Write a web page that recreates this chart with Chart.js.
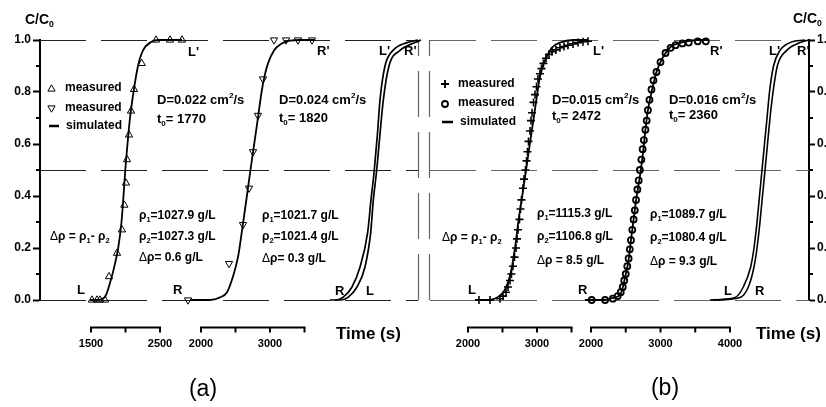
<!DOCTYPE html>
<html><head><meta charset="utf-8">
<script src="https://cdn.jsdelivr.net/npm/chart.js@4.4.1/dist/chart.umd.min.js"></script>
<style>html,body{margin:0;padding:0;background:#fff}#wrap{width:826px;height:407px;position:relative}</style>
</head><body><div id="wrap"><canvas id="c" width="826" height="407"></canvas></div>
<script>
// ---------------- data ----------------
// y axis
const yTicks = [0, 0.2, 0.4, 0.6, 0.8, 1.0];
const yMinorTicks = [0.1, 0.3, 0.5, 0.7, 0.9];
const guideLevels = [0, 0.5, 1.0];

// panel (a), left curve: triangles up, D=0.022
const a1MeasT = [1514, 1587, 1630, 1703, 1761, 1877, 1949, 1983, 2007, 2022, 2051, 2080, 2123, 2235, 2442, 2645, 2819];
const a1MeasC = [0, 0, 0, 0, 0.09, 0.18, 0.27, 0.365, 0.45, 0.54, 0.635, 0.727, 0.81, 0.91, 1.0, 1.0, 1.0];
const a1SimT = [1486, 1587, 1703, 1775, 1848, 1894, 1942, 1971, 1997, 2029, 2065, 2116, 2181, 2254, 2384, 2471, 2819];
const a1SimC = [0, 0, 0.012, 0.065, 0.14, 0.2, 0.3, 0.4, 0.5, 0.6, 0.7, 0.8, 0.9, 0.96, 0.994, 1.0, 1.0];
const a1AxisTicks = [1500, 2000, 2500];
const a1AxisLabels = [1500, 2500];

// panel (a), right curve: triangles down, D=0.024
const a2MeasT = [1812, 2406, 2609, 2696, 2754, 2826, 2899, 3058, 3232, 3406, 3609];
const a2MeasC = [0, 0.14, 0.29, 0.43, 0.57, 0.71, 0.85, 1.0, 1.0, 1.0, 1.0];
const a2SimT = [1841, 2130, 2275, 2377, 2464, 2536, 2558, 2612, 2665, 2717, 2771, 2825, 2878, 2920, 2971, 3058, 3159, 3290, 3435, 3652];
const a2SimC = [0, 0, 0.01, 0.03, 0.09, 0.165, 0.2, 0.3, 0.4, 0.5, 0.6, 0.7, 0.8, 0.86, 0.91, 0.96, 0.985, 0.998, 1.0, 1.0];
const a2AxisTicks = [2000, 2500, 3000, 3500];
const a2AxisLabels = [2000, 3000];

// panel (a), overlaid simulated L / R curves
const a3LeftT = [1913, 2000, 2101, 2232, 2348, 2459, 2507, 2555, 2601, 2638, 2710, 2826, 3029, 3188];
const a3LeftC = [0, 0, 0.01, 0.05, 0.127, 0.26, 0.385, 0.5, 0.64, 0.77, 0.9, 0.96, 0.99, 1.0];
const a3RightT = [1986, 2072, 2174, 2304, 2420, 2503, 2541, 2590, 2638, 2686, 2768, 2928, 3145, 3232];
const a3RightC = [0, 0, 0.01, 0.05, 0.127, 0.26, 0.385, 0.5, 0.64, 0.77, 0.9, 0.96, 0.99, 1.0];

// panel (b), left curve: crosses, D=0.015
const b1MeasT = [2159, 2319, 2464, 2507, 2551, 2580, 2609, 2630, 2652, 2674, 2696, 2710, 2725, 2746, 2761, 2775, 2797, 2812, 2833, 2848, 2862, 2877, 2899, 2913, 2928, 2949, 2971, 2993, 3014, 3043, 3065, 3094, 3130, 3174, 3217, 3275, 3333, 3391, 3449, 3522, 3594, 3667, 3739];
const b1MeasC = [0, 0, 0.005, 0.015, 0.03, 0.05, 0.075, 0.1, 0.13, 0.165, 0.2, 0.235, 0.27, 0.31, 0.35, 0.385, 0.43, 0.465, 0.5, 0.535, 0.57, 0.61, 0.65, 0.69, 0.72, 0.76, 0.79, 0.82, 0.85, 0.87, 0.89, 0.91, 0.93, 0.945, 0.955, 0.962, 0.97, 0.975, 0.98, 0.985, 0.99, 0.993, 0.995];
const b1SimT = [2101, 2319, 2435, 2536, 2616, 2681, 2729, 2786, 2841, 2896, 2952, 3007, 3036, 3083, 3141, 3213, 3333, 3522, 3739];
const b1SimC = [0, 0, 0.012, 0.04, 0.1, 0.2, 0.3, 0.4, 0.5, 0.6, 0.7, 0.8, 0.85, 0.9, 0.935, 0.97, 0.99, 1.0, 1.0];
const b1AxisTicks = [2000, 2500, 3000, 3500];
const b1AxisLabels = [2000, 3000];

// panel (b), right curve: circles, D=0.016
const b2MeasT = [2010, 2203, 2314, 2384, 2428, 2457, 2478, 2500, 2522, 2541, 2558, 2575, 2594, 2613, 2630, 2648, 2667, 2686, 2703, 2725, 2743, 2761, 2783, 2801, 2819, 2841, 2870, 2899, 2942, 3000, 3072, 3145, 3217, 3314, 3406, 3536, 3652];
const b2MeasC = [0, 0, 0.005, 0.015, 0.03, 0.05, 0.075, 0.1, 0.13, 0.16, 0.195, 0.23, 0.27, 0.31, 0.345, 0.385, 0.425, 0.46, 0.5, 0.54, 0.58, 0.615, 0.655, 0.69, 0.73, 0.77, 0.81, 0.845, 0.877, 0.915, 0.95, 0.97, 0.98, 0.987, 0.99, 0.995, 0.995];
const b2SimT = [1913, 2203, 2314, 2420, 2449, 2493, 2541, 2575, 2613, 2652, 2717, 2754, 2783, 2819, 2880, 2942, 3000, 3072, 3145, 3290, 3536, 3700];
const b2SimC = [0, 0, 0.008, 0.02, 0.04, 0.09, 0.154, 0.23, 0.31, 0.39, 0.5, 0.58, 0.654, 0.73, 0.81, 0.877, 0.915, 0.95, 0.973, 0.99, 1.0, 1.0];
const b2AxisTicks = [2000, 2500, 3000, 3500, 4000];
const b2AxisLabels = [2000, 3000, 4000];

// panel (b), overlaid simulated L / R curves
const b3LeftT = [2072, 2435, 2555, 2662, 2710, 2754, 2790, 2826, 2862, 2899, 2935, 2993, 3087, 3232, 3449];
const b3LeftC = [0, 0.01, 0.05, 0.127, 0.2, 0.3, 0.4, 0.5, 0.6, 0.7, 0.8, 0.9, 0.96, 0.99, 1.0];
const b3RightT = [2116, 2507, 2628, 2710, 2754, 2797, 2833, 2870, 2906, 2942, 2986, 3048, 3184, 3377, 3507];
const b3RightC = [0, 0.01, 0.05, 0.127, 0.2, 0.3, 0.4, 0.5, 0.6, 0.7, 0.8, 0.9, 0.96, 0.99, 1.0];

// ---------------- layout ----------------
const FONT = '"Liberation Sans", Arial, Helvetica, sans-serif';
const AREA = {left: 40, right: 809, top: 40, bottom: 300};
const PANEL_A_END = 418;
const PANEL_B_START = 430;
// value -> pixel anchors for each sub-plot time axis
const anchors = {
  xa1: [1500, 91, 2500, 160],
  xa2: [2000, 201, 3000, 270],
  xa3: [2000, 336, 3000, 405],
  xb1: [2000, 468, 3000, 537],
  xb2: [2000, 591, 4000, 730],
  xb3: [2000, 705, 3000, 774]
};
function fitRange(v0, p0, v1, p1) {
  const k = (p1 - p0) / (v1 - v0);
  const min = v0 - (p0 - AREA.left) / k;
  return {min: min, max: min + (AREA.right - AREA.left) / k};
}
const scales = {};
for (const id in anchors) {
  const r = fitRange.apply(null, anchors[id]);
  scales[id] = {type: 'linear', axis: 'x', position: 'bottom', display: false, min: r.min, max: r.max};
}
const yCommon = {
  type: 'linear', min: 0, max: 1,
  ticks: {stepSize: 0.2, color: '#000', font: {family: FONT, size: 12, weight: 'bold'}, padding: 2,
          callback: v => Number(v).toFixed(1)},
  grid: {drawOnChartArea: false, drawTicks: true, tickLength: 7, tickWidth: 2, tickColor: '#000'},
  border: {display: true, width: 2, color: '#000'}
};
scales.y = Object.assign({}, yCommon, {position: 'left', afterFit: s => { s.width = AREA.left; }});
scales.yR = Object.assign({}, yCommon, {position: 'right', grid: Object.assign({}, yCommon.grid, {tickLength: 6}),
  afterFit: s => { s.width = 826 - AREA.right; }});

function pts(T, C) { return T.map((t, i) => ({x: t, y: C[i]})); }
function sim(T, C, axis, w) {
  return {data: pts(T, C), xAxisID: axis, yAxisID: 'y', showLine: true, pointRadius: 0, borderColor: '#000',
          borderWidth: w || 1.8, cubicInterpolationMode: 'monotone', clip: false, order: 2};
}
function meas(T, C, axis, style, r, bw, rot) {
  return {data: pts(T, C), xAxisID: axis, yAxisID: 'y', showLine: false, pointStyle: style, pointRadius: r,
          pointBorderWidth: bw, pointRotation: rot || 0, borderColor: '#000', pointBorderColor: '#000',
          backgroundColor: 'rgba(0,0,0,0)', pointBackgroundColor: 'rgba(0,0,0,0)', clip: false, order: 1};
}
const datasets = [
  sim(a1SimT, a1SimC, 'xa1'), meas(a1MeasT, a1MeasC, 'xa1', 'triangle', 4.2, 1),
  sim(a2SimT, a2SimC, 'xa2'), meas(a2MeasT, a2MeasC, 'xa2', 'triangle', 4.2, 1, 180),
  sim(a3LeftT, a3LeftC, 'xa3', 1.7), sim(a3RightT, a3RightC, 'xa3', 1.7),
  sim(b1SimT, b1SimC, 'xb1'), meas(b1MeasT, b1MeasC, 'xb1', 'cross', 4, 1.6),
  sim(b2SimT, b2SimC, 'xb2'), meas(b2MeasT, b2MeasC, 'xb2', 'circle', 3, 1.8),
  sim(b3LeftT, b3LeftC, 'xb3', 1.6), sim(b3RightT, b3RightC, 'xb3', 1.6)
];

// ---------------- texts ----------------
const miniAxes = [
  {scale: 'xa1', ticks: a1AxisTicks, labels: a1AxisLabels},
  {scale: 'xa2', ticks: a2AxisTicks, labels: a2AxisLabels},
  {scale: 'xb1', ticks: b1AxisTicks, labels: b1AxisLabels},
  {scale: 'xb2', ticks: b2AxisTicks, labels: b2AxisLabels}
];
const notes = [
  {x: 25, y: 20, s: 14, t: [['C/C'], ['0', 'sub']]},
  {x: 793, y: 19, s: 14, t: [['C/C'], ['0', 'sub']]},
  {x: 157, y: 100, s: 13, t: [['D=0.022 cm'], ['2', 'sup'], ['/s']]},
  {x: 157, y: 119, s: 13, t: [['t'], ['0', 'sub'], ['= 1770']]},
  {x: 279, y: 100, s: 13, t: [['D=0.024 cm'], ['2', 'sup'], ['/s']]},
  {x: 279, y: 118, s: 13, t: [['t'], ['0', 'sub'], ['= 1820']]},
  {x: 139, y: 216, s: 12, t: [['ρ'], ['1', 'sub'], ['=1027.9 g/L']]},
  {x: 139, y: 237, s: 12, t: [['ρ'], ['2', 'sub'], ['=1027.3 g/L']]},
  {x: 139, y: 258, s: 12, t: [['Δ', 'reg'], ['ρ= 0.6 g/L']]},
  {x: 50, y: 237, s: 12, t: [['Δ', 'reg'], ['ρ = ρ'], ['1', 'sub'], ['- ρ'], ['2', 'sub']]},
  {x: 262, y: 216, s: 12, t: [['ρ'], ['1', 'sub'], ['=1021.7 g/L']]},
  {x: 262, y: 237, s: 12, t: [['ρ'], ['2', 'sub'], ['=1021.4 g/L']]},
  {x: 262, y: 259, s: 12, t: [['Δ', 'reg'], ['ρ= 0.3 g/L']]},
  {x: 552, y: 100, s: 13, t: [['D=0.015 cm'], ['2', 'sup'], ['/s']]},
  {x: 552, y: 116, s: 13, t: [['t'], ['0', 'sub'], ['= 2472']]},
  {x: 669, y: 100, s: 13, t: [['D=0.016 cm'], ['2', 'sup'], ['/s']]},
  {x: 669, y: 115, s: 13, t: [['t'], ['0', 'sub'], ['= 2360']]},
  {x: 442, y: 238, s: 12, t: [['Δ', 'reg'], ['ρ = ρ'], ['1', 'sub'], ['- ρ'], ['2', 'sub']]},
  {x: 537, y: 214, s: 12, t: [['ρ'], ['1', 'sub'], ['=1115.3 g/L']]},
  {x: 537, y: 237, s: 12, t: [['ρ'], ['2', 'sub'], ['=1106.8 g/L']]},
  {x: 537, y: 261, s: 12, t: [['Δ', 'reg'], ['ρ = 8.5 g/L']]},
  {x: 650, y: 215, s: 12, t: [['ρ'], ['1', 'sub'], ['=1089.7 g/L']]},
  {x: 650, y: 238, s: 12, t: [['ρ'], ['2', 'sub'], ['=1080.4 g/L']]},
  {x: 650, y: 262, s: 12, t: [['Δ', 'reg'], ['ρ = 9.3 g/L']]},
  // legends
  {x: 65, y: 88, s: 12, t: [['measured']]},
  {x: 65, y: 108, s: 12, t: [['measured']]},
  {x: 66, y: 126, s: 12, t: [['simulated']]},
  {x: 458, y: 84, s: 12, t: [['measured']]},
  {x: 458, y: 103, s: 12, t: [['measured']]},
  {x: 460, y: 122, s: 12, t: [['simulated']]},
  // curve end labels
  {x: 77, y: 290, s: 13, t: [['L']]},
  {x: 188, y: 52, s: 13, t: [["L'"]]},
  {x: 173, y: 290, s: 13, t: [['R']]},
  {x: 317, y: 51, s: 13, t: [["R'"]]},
  {x: 379, y: 51, s: 13, t: [["L'"]]},
  {x: 404, y: 51, s: 13, t: [["R'"]]},
  {x: 335, y: 291, s: 13, t: [['R']]},
  {x: 366, y: 291, s: 13, t: [['L']]},
  {x: 468, y: 290, s: 13, t: [['L']]},
  {x: 578, y: 290, s: 13, t: [['R']]},
  {x: 593, y: 51, s: 13, t: [["L'"]]},
  {x: 710, y: 51, s: 13, t: [["R'"]]},
  {x: 769, y: 51, s: 13, t: [["L'"]]},
  {x: 797, y: 51, s: 13, t: [["R'"]]},
  {x: 724, y: 291, s: 13, t: [['L']]},
  {x: 755, y: 291, s: 13, t: [['R']]},
  // axis titles
  {x: 336, y: 334, s: 17, t: [['Time (s)']]},
  {x: 756, y: 334, s: 17, t: [['Time (s)']]}
];
const legendSymbols = [
  {x: 51.5, y: 89, style: 'triangle', r: 4.2, bw: 1, rot: 0},
  {x: 51.5, y: 108, style: 'triangle', r: 4.2, bw: 1, rot: 180},
  {x: 445, y: 84, style: 'cross', r: 4, bw: 1.8, rot: 0},
  {x: 445, y: 104, style: 'circle', r: 3, bw: 1.8, rot: 0}
];
const legendDashes = [[49, 59, 126], [442, 453, 122]];

function rich(ctx, x, y, segs, size) {
  let cx = x;
  for (const seg of segs) {
    const t = seg[0], k = seg[1] || '';
    let fs = size, dy = 0, w = 'bold';
    if (k === 'sub') { fs = size * 0.62; dy = size * 0.33; }
    if (k === 'sup') { fs = size * 0.62; dy = -size * 0.36; }
    if (k === 'reg') { w = 'normal'; }
    ctx.font = w + ' ' + fs + 'px ' + FONT;
    ctx.fillText(t, cx, y + dy);
    cx += ctx.measureText(t).width;
  }
}

const decor = {
  id: 'decor',
  beforeDatasetsDraw(chart) {
    const ctx = chart.ctx, ys = chart.scales.y, ca = chart.chartArea;
    ctx.save();
    ctx.lineWidth = 1.2;
    ctx.setLineDash([46, 15]);
    for (const v of guideLevels) {
      const py = Math.round(ys.getPixelForValue(v)) + 0.5;
      ctx.strokeStyle = '#222';
      ctx.beginPath(); ctx.moveTo(ca.left, py); ctx.lineTo(PANEL_A_END, py); ctx.stroke();
      ctx.strokeStyle = '#666';
      ctx.beginPath(); ctx.moveTo(PANEL_B_START, py); ctx.lineTo(ca.right, py); ctx.stroke();
    }
    ctx.strokeStyle = '#666';
    for (const px of [PANEL_A_END + 0.5, PANEL_B_START - 0.5]) {
      ctx.beginPath(); ctx.moveTo(px, ys.getPixelForValue(0)); ctx.lineTo(px, ys.getPixelForValue(1)); ctx.stroke();
    }
    ctx.restore();
  },
  afterDraw(chart) {
    const ctx = chart.ctx, ys = chart.scales.y, ca = chart.chartArea;
    ctx.save();
    ctx.fillStyle = '#000'; ctx.strokeStyle = '#000';
    // minor ticks on both y axes
    ctx.lineWidth = 2;
    for (const v of yMinorTicks) {
      const py = ys.getPixelForValue(v);
      ctx.beginPath(); ctx.moveTo(ca.left - 4, py); ctx.lineTo(ca.left, py); ctx.stroke();
      ctx.beginPath(); ctx.moveTo(ca.right, py); ctx.lineTo(ca.right + 4, py); ctx.stroke();
    }
    // mini time axes
    const axY = 327.5;
    ctx.textAlign = 'center'; ctx.textBaseline = 'middle';
    ctx.font = 'bold 11px ' + FONT;
    for (const ax of miniAxes) {
      const sc = chart.scales[ax.scale];
      const x0 = sc.getPixelForValue(ax.ticks[0]);
      const x1 = sc.getPixelForValue(ax.ticks[ax.ticks.length - 1]);
      ctx.lineWidth = 2;
      ctx.beginPath(); ctx.moveTo(x0 - 1, axY); ctx.lineTo(x1 + 1, axY); ctx.stroke();
      for (const t of ax.ticks) {
        const px = sc.getPixelForValue(t);
        ctx.beginPath(); ctx.moveTo(px, axY); ctx.lineTo(px, axY + 5); ctx.stroke();
      }
      for (const t of ax.labels) {
        ctx.fillText(String(t), sc.getPixelForValue(t), 344);
      }
    }
    // legend symbols
    for (const s of legendSymbols) {
      ctx.save();
      ctx.fillStyle = 'rgba(0,0,0,0)'; ctx.strokeStyle = '#000'; ctx.lineWidth = s.bw;
      Chart.helpers.drawPoint(ctx, {pointStyle: s.style, radius: s.r, rotation: s.rot, borderWidth: s.bw}, s.x, s.y);
      ctx.restore();
    }
    ctx.lineWidth = 2.5;
    for (const d of legendDashes) {
      ctx.beginPath(); ctx.moveTo(d[0], d[2]); ctx.lineTo(d[1], d[2]); ctx.stroke();
    }
    // texts
    ctx.textAlign = 'left'; ctx.textBaseline = 'middle'; ctx.fillStyle = '#000';
    for (const n of notes) rich(ctx, n.x, n.y, n.t, n.s);
    ctx.textAlign = 'center';
    ctx.font = 'normal 23px ' + FONT;
    ctx.fillText('(a)', 203, 390);
    ctx.fillText('(b)', 665, 389);
    ctx.restore();
  }
};

new Chart(document.getElementById('c'), {
  type: 'scatter',
  data: {datasets: datasets},
  options: {
    responsive: false, animation: false, devicePixelRatio: 1,
    layout: {padding: {top: AREA.top, bottom: 407 - AREA.bottom, left: 0, right: 0}},
    scales: scales,
    plugins: {legend: {display: false}, tooltip: {enabled: false}}
  },
  plugins: [decor]
});
</script>
</body></html>
